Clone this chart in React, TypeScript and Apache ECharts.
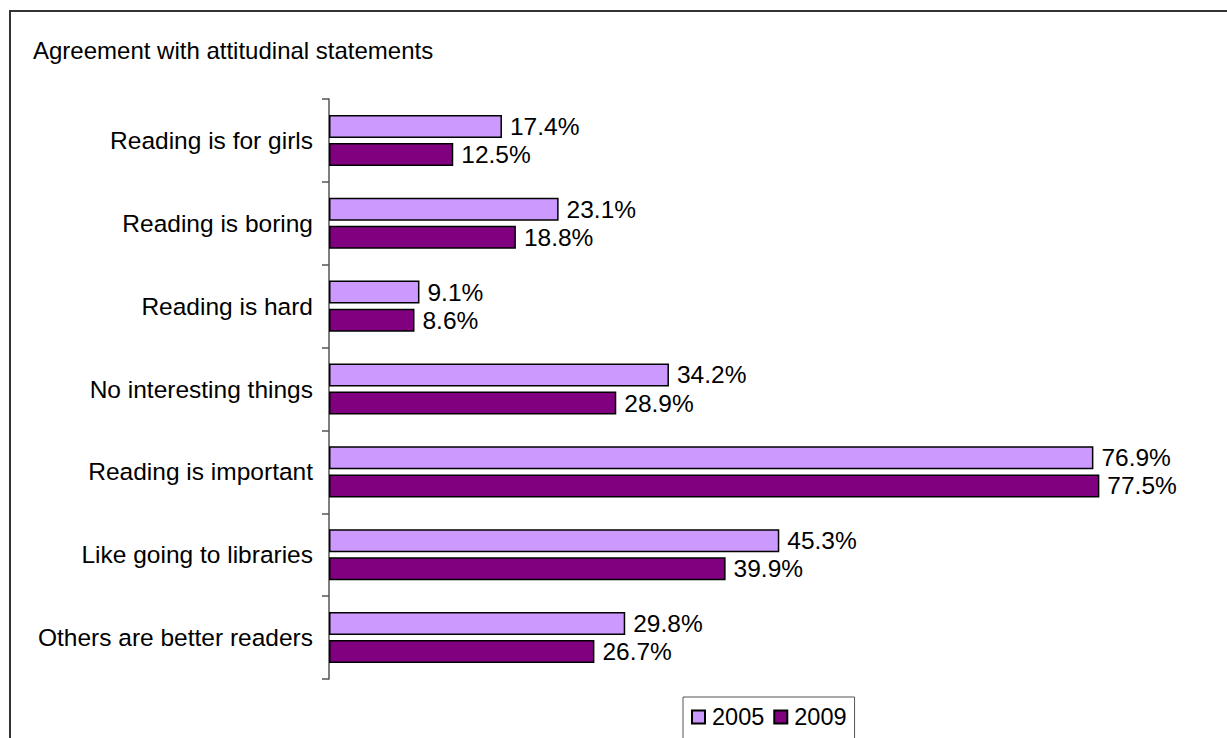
import React, { useEffect, useRef } from "react";
import * as echarts from "echarts";

const categories = [
  "Reading is for girls",
  "Reading is boring",
  "Reading is hard",
  "No interesting things",
  "Reading is important",
  "Like going to libraries",
  "Others are better readers",
];
const values2005 = [17.4, 23.1, 9.1, 34.2, 76.9, 45.3, 29.8];
const values2009 = [12.5, 18.8, 8.6, 28.9, 77.5, 39.9, 26.7];
const seriesNames = ["2005", "2009"];
const chartTitle = "Agreement with attitudinal statements";

const FONT = "'Liberation Sans', Arial, Helvetica, sans-serif";

export default function App() {
  const ref = useRef<HTMLDivElement>(null);
  useEffect(() => {
    document.body.style.margin = "0";
    if (!ref.current) return;
    const chart = echarts.init(ref.current, undefined, { renderer: "svg" });
    const label = {
      show: true,
      position: "right",
      distance: 8,
      color: "#000",
      fontSize: 24.5,
      fontFamily: FONT,
      formatter: (p: any) => Number(p.value).toFixed(1) + "%",
    };
    chart.setOption({
      animation: false,
      backgroundColor: "#fff",
      title: {
        text: chartTitle,
        left: 33,
        top: 38,
        padding: 0,
        textStyle: { fontSize: 24, fontWeight: "normal", color: "#000", fontFamily: FONT },
      },
      graphic: [
        {
          type: "rect",
          shape: { x: 10, y: 11, width: 1400, height: 900 },
          style: { fill: "none", stroke: "#333", lineWidth: 2 },
          silent: true,
          z: -10,
        },
      ],
      legend: {
        data: seriesNames,
        left: 683,
        top: 697,
        padding: [8, 8, 12, 8],
        itemWidth: 13,
        itemHeight: 13,
        itemGap: 9,
        borderColor: "#555",
        borderWidth: 1,
        icon: "rect",
        textStyle: { fontSize: 23.5, color: "#000", fontFamily: FONT, padding: [0, 0, 0, 2] },
      },
      grid: { left: 329, top: 99, height: 580, right: 0, containLabel: false, outerBoundsMode: "none" },
      xAxis: {
        type: "value",
        min: 0,
        max: 90.34,
        show: false,
        splitLine: { show: false },
      },
      yAxis: {
        type: "category",
        data: categories,
        inverse: true,
        axisLine: { show: true, lineStyle: { color: "#555", width: 1.5 } },
        axisTick: { show: true, length: 7, lineStyle: { color: "#555", width: 1.5 } },
        axisLabel: { margin: 16, fontSize: 24.5, color: "#000", fontFamily: FONT },
      },
      series: [
        {
          name: seriesNames[0],
          type: "bar",
          data: values2005,
          barWidth: 23,
          barGap: "22%",
          itemStyle: { color: "#CC99FF", borderColor: "#000", borderWidth: 1.5 },
          label,
        },
        {
          name: seriesNames[1],
          type: "bar",
          data: values2009,
          barWidth: 23,
          barGap: "22%",
          itemStyle: { color: "#800080", borderColor: "#000", borderWidth: 1.5 },
          label,
        },
      ],
    });
    return () => chart.dispose();
  }, []);
  return <div ref={ref} style={{ width: 1227, height: 738 }} />;
}
